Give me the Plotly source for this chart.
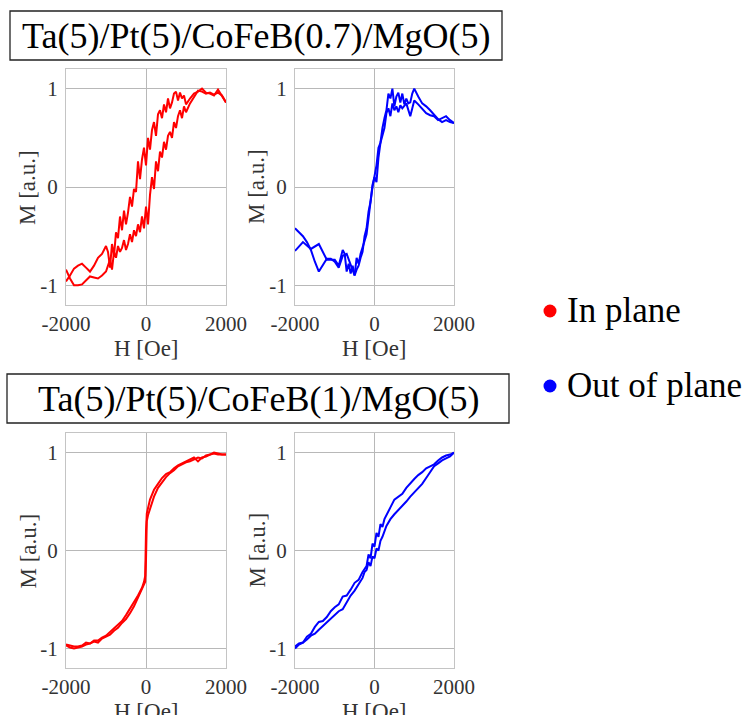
import plotly.graph_objects as go

# ---------------- data ----------------
titles = ["Ta(5)/Pt(5)/CoFeB(0.7)/MgO(5)", "Ta(5)/Pt(5)/CoFeB(1)/MgO(5)"]
legend_labels = ["In plane", "Out of plane"]
x_title = "H [Oe]"
y_title = "M [a.u.]"
x_tickvals = [-2000, 0, 2000]
x_ticktext = ["-2000", "0", "2000"]
y_tickvals = [-1, 0, 1]
y_ticktext = ["-1", "0", "1"]

# Panel A: CoFeB(0.7), in plane
a_ip_down_H = [2000, 1900, 1800, 1700, 1600, 1500, 1400, 1300, 1200, 1100,
               1000, 950, 900, 850, 800, 750, 700, 650, 600, 550, 500, 450, 400, 350, 300, 250, 200, 150, 100, 50,
               0, -50, -100, -150, -200, -250, -300, -350, -400, -450, -500, -550, -600, -650, -700, -750, -800,
               -850, -900, -950, -1000,
               -1100, -1200, -1300, -1400, -1500, -1600, -1700, -1800, -1900, -2000]
a_ip_down_M = [0.86, 0.93, 0.99, 0.93, 0.95, 0.96, 1.0, 0.97, 0.95, 0.90,
               0.84, 0.93, 0.90, 0.96, 0.88, 0.97, 0.95, 0.86, 0.80, 0.90, 0.76, 0.84, 0.70, 0.78, 0.74, 0.52, 0.66,
               0.58, 0.38, 0.50, 0.22, 0.40, 0.28, 0.08, 0.26, -0.05, -0.02, -0.20, -0.10, -0.26, -0.38, -0.24,
               -0.44, -0.30, -0.52, -0.46, -0.70, -0.58, -0.82, -0.66, -0.60,
               -0.68, -0.72, -0.80, -0.86, -0.82, -0.78, -0.80, -0.83, -0.90, -0.96]
a_ip_up_H = [-2000, -1900, -1800, -1700, -1600, -1500, -1400, -1300, -1200, -1100,
             -1000, -950, -900, -850, -800, -750, -700, -650, -600, -550, -500, -450, -400, -350, -300, -250, -200,
             -150, -100, -50, 0, 50, 100, 150, 200, 250, 300, 350, 400, 450, 500, 550, 600, 650, 700, 750, 800, 850,
             900, 950, 1000,
             1100, 1200, 1300, 1400, 1500, 1600, 1700, 1800, 1900, 2000]
a_ip_up_M = [-0.84, -0.93, -1.0, -1.0, -0.99, -0.95, -0.91, -0.92, -0.93, -0.90,
             -0.86, -0.80, -0.74, -0.84, -0.66, -0.72, -0.60, -0.66, -0.62, -0.54, -0.64, -0.58, -0.48, -0.56,
             -0.44, -0.50, -0.38, -0.46, -0.30, -0.42, -0.20, -0.38, -0.08, 0.10, -0.02, 0.26, 0.16, 0.36, 0.30,
             0.46, 0.38, 0.52, 0.56, 0.50, 0.66, 0.60, 0.72, 0.78, 0.70, 0.82, 0.76,
             0.85, 0.92, 0.98, 0.97, 0.95, 0.96, 0.94, 0.96, 0.93, 0.86]

# Panel B: CoFeB(0.7), out of plane
a_op_up_H = [-2000, -1800, -1600, -1400, -1200, -1000, -900, -800, -750, -700, -650, -600, -550, -500, -450, -400, -350,
             -300, -250, -200, -150, -100, -50, 0, 50, 100, 150, 200, 250, 300, 350, 400, 450, 500, 550, 600, 650, 700,
             800, 900, 1000, 1100, 1200, 1300, 1400, 1500, 1600, 1700, 1800, 1900, 2000]
a_op_up_M = [-0.65, -0.56, -0.63, -0.58, -0.74, -0.74, -0.80, -0.64, -0.68, -0.86, -0.78, -0.88, -0.80, -0.90, -0.84,
             -0.80, -0.72, -0.66, -0.50, -0.42, -0.25, -0.15, 0.02, 0.10, 0.05, 0.30, 0.45, 0.52, 0.60, 0.75, 0.80,
             0.72, 0.85, 0.78, 0.82, 0.76, 0.83, 0.80, 0.85, 0.72, 0.88, 0.84, 0.80, 0.75, 0.73, 0.72, 0.68, 0.70,
             0.72, 0.68, 0.65]
a_op_down_H = [2000, 1900, 1800, 1700, 1600, 1500, 1400, 1300, 1200, 1100, 1000, 950, 900, 850, 800, 750, 700, 650, 600,
               550, 500, 450, 400, 350, 300, 250, 200, 150, 100, 50, 0, -50, -100, -150, -200, -250, -300, -350, -400,
               -450, -500, -600, -700, -800, -900, -1000, -1100, -1200, -1300, -1400, -1500, -1600, -1700, -1800,
               -1900, -2000]
a_op_down_M = [0.65, 0.66, 0.68, 0.66, 0.69, 0.74, 0.78, 0.82, 0.85, 0.92, 1.0, 0.95, 0.86, 0.85, 0.90, 0.84, 0.95,
               0.86, 0.96, 0.92, 0.82, 1.0, 0.90, 0.95, 0.78, 0.70, 0.60, 0.45, 0.40, 0.22, 0.12, 0.0, -0.15, -0.35,
               -0.48, -0.55, -0.62, -0.68, -0.78, -0.72, -0.90, -0.78, -0.68, -0.70, -0.82, -0.76, -0.73, -0.73,
               -0.80, -0.86, -0.76, -0.64, -0.56, -0.50, -0.46, -0.42]

# Panel C: CoFeB(1), in plane
b_ip_up_H = [-2000, -1900, -1800, -1700, -1600, -1500, -1400, -1300, -1200, -1100, -1000, -900, -800, -700, -600, -500,
             -400, -300, -200, -100, -50, -20, 0, 10, 20, 50, 100, 150, 200, 300, 400, 500, 600, 700, 800, 900, 1000,
             1100, 1200, 1300, 1400, 1500, 1600, 1700, 1800, 1900, 2000]
b_ip_up_M = [-0.97, -0.99, -1.0, -0.99, -0.98, -0.96, -0.95, -0.93, -0.94, -0.90, -0.88, -0.86, -0.82, -0.79, -0.74,
             -0.70, -0.64, -0.57, -0.48, -0.40, -0.36, -0.32, -0.10, 0.20, 0.30, 0.36, 0.42, 0.50, 0.55, 0.64, 0.70,
             0.75, 0.79, 0.82, 0.86, 0.88, 0.90, 0.91, 0.93, 0.95, 0.94, 0.97, 0.98, 0.99, 0.98, 0.98, 0.98]
b_ip_down_H = [2000, 1900, 1800, 1700, 1600, 1500, 1400, 1300, 1200, 1100, 1000, 900, 800, 700, 600, 500, 400, 300, 200,
               100, 50, 20, 0, -10, -20, -50, -100, -200, -300, -400, -500, -600, -700, -800, -900, -1000, -1100,
               -1200, -1300, -1400, -1500, -1600, -1700, -1800, -1900, -2000]
b_ip_down_M = [0.98, 0.98, 0.99, 1.0, 0.98, 0.96, 0.95, 0.91, 0.95, 0.93, 0.91, 0.89, 0.87, 0.84, 0.80, 0.78, 0.74,
               0.68, 0.62, 0.52, 0.44, 0.38, 0.20, -0.10, -0.26, -0.32, -0.38, -0.46, -0.53, -0.60, -0.66, -0.72,
               -0.76, -0.80, -0.84, -0.87, -0.89, -0.92, -0.92, -0.95, -0.94, -0.97, -0.98, -0.98, -0.97, -0.96]

# Panel D: CoFeB(1), out of plane
b_op_up_H = [-2000, -1900, -1800, -1700, -1600, -1500, -1400, -1300, -1200, -1100, -1000, -900, -800, -700, -600, -500,
             -400, -300, -250, -200, -150, -100, -50, 0, 50, 100, 150, 200, 300, 400, 500, 600, 700, 800, 900, 1000,
             1100, 1200, 1300, 1400, 1500, 1600, 1700, 1800, 1900, 2000]
b_op_up_M = [-1.0, -0.96, -0.94, -0.91, -0.87, -0.85, -0.81, -0.77, -0.73, -0.70, -0.66, -0.62, -0.60, -0.53, -0.46,
             -0.41, -0.35, -0.28, -0.22, -0.20, -0.12, -0.16, -0.06, -0.08, 0.02, 0.00, 0.10, 0.14, 0.25, 0.32, 0.37,
             0.41, 0.45, 0.50, 0.55, 0.59, 0.64, 0.68, 0.74, 0.80, 0.86, 0.89, 0.92, 0.94, 0.96, 1.0]
b_op_down_H = [2000, 1900, 1800, 1700, 1600, 1500, 1400, 1300, 1200, 1100, 1000, 900, 800, 700, 600, 500, 400, 300, 250,
               200, 150, 100, 50, 0, -50, -100, -150, -200, -300, -400, -500, -600, -700, -800, -900, -1000, -1100,
               -1200, -1300, -1400, -1500, -1600, -1700, -1800, -1900, -2000]
b_op_down_M = [1.0, 0.98, 0.97, 0.95, 0.92, 0.88, 0.86, 0.84, 0.80, 0.77, 0.73, 0.69, 0.64, 0.58, 0.55, 0.52, 0.44,
               0.36, 0.32, 0.24, 0.27, 0.14, 0.18, 0.04, 0.07, -0.08, -0.04, -0.16, -0.22, -0.30, -0.33, -0.40, -0.46,
               -0.47, -0.55, -0.58, -0.62, -0.68, -0.72, -0.73, -0.78, -0.85, -0.88, -0.94, -0.95, -0.98]

RED = "#ff0000"
BLUE = "#0000ff"
FONT = "Liberation Serif"
AXCOL = "#333333"
W, H = 746, 715

def px_x(p):
    return p / W

def px_y(p):
    return 1 - p / H

fig = go.Figure()

panels = [
    (1, [(a_ip_down_H, a_ip_down_M), (a_ip_up_H, a_ip_up_M)], RED, (66, 226), (69, 305)),
    (2, [(a_op_up_H, a_op_up_M), (a_op_down_H, a_op_down_M)], BLUE, (295, 454), (69, 305)),
    (3, [(b_ip_up_H, b_ip_up_M), (b_ip_down_H, b_ip_down_M)], RED, (66, 226), (433, 668)),
    (4, [(b_op_up_H, b_op_up_M), (b_op_down_H, b_op_down_M)], BLUE, (295, 454), (433, 668)),
]

shapes = []
annotations = []

for idx, branches, col, (x0, x1), (y0, y1) in panels:
    xa = "x" if idx == 1 else f"x{idx}"
    ya = "y" if idx == 1 else f"y{idx}"
    for hx, my in branches:
        fig.add_trace(go.Scatter(x=hx, y=my, mode="lines", xaxis=xa, yaxis=ya,
                                 line=dict(color=col, width=2), showlegend=False, hoverinfo="skip"))
    axis_common = dict(showline=True, mirror=True, linecolor="#c4c4c4", linewidth=1,
                       showgrid=True, gridcolor="#b8b8b8", gridwidth=1, zeroline=False,
                       ticks="outside", tickcolor="rgba(0,0,0,0)", automargin=False,
                       tickfont=dict(family=FONT, size=21, color=AXCOL))
    xkey = "xaxis" if idx == 1 else f"xaxis{idx}"
    ykey = "yaxis" if idx == 1 else f"yaxis{idx}"
    fig.update_layout({
        xkey: dict(axis_common, ticklen=0, domain=[px_x(x0), px_x(x1)], range=[-2000, 2000],
                   anchor=ya, tickmode="array", tickvals=x_tickvals, ticktext=x_ticktext),
        ykey: dict(axis_common, ticklen=3, domain=[px_y(y1), px_y(y0)], range=[-1.2, 1.2],
                   anchor=xa, tickmode="array", tickvals=y_tickvals, ticktext=y_ticktext),
    })
    # axis titles
    annotations.append(dict(text=x_title, xref="paper", yref="paper", x=px_x((x0 + x1) / 2),
                            y=px_y(y1 + 43), xanchor="center", yanchor="middle", showarrow=False,
                            font=dict(family=FONT, size=23, color=AXCOL)))
    annotations.append(dict(text=y_title, xref="paper", yref="paper", x=px_x(x0 - 38),
                            y=px_y((y0 + y1) / 2), xanchor="center", yanchor="middle", showarrow=False,
                            textangle=-90, font=dict(family=FONT, size=23, color=AXCOL)))

boxes = [(10, 502, 11, 60), (7, 509, 374, 423)]
for t, (bx0, bx1, by0, by1) in zip(titles, boxes):
    shapes.append(dict(type="rect", xref="paper", yref="paper",
                       x0=px_x(bx0), x1=px_x(bx1), y0=px_y(by1), y1=px_y(by0),
                       line=dict(color="#222222", width=1.3), fillcolor="rgba(0,0,0,0)"))
    annotations.append(dict(text=t, xref="paper", yref="paper", x=px_x((bx0 + bx1) / 2),
                            y=px_y((by0 + by1) / 2), xanchor="center", yanchor="middle",
                            showarrow=False, font=dict(family=FONT, size=36, color="black")))

leg = [(legend_labels[0], RED, 311), (legend_labels[1], BLUE, 386)]
for lab, col, cy in leg:
    r = 6.5
    shapes.append(dict(type="circle", xref="paper", yref="paper",
                       x0=px_x(550 - r), x1=px_x(550 + r), y0=px_y(cy + r), y1=px_y(cy - r),
                       line=dict(color=col, width=0), fillcolor=col))
    annotations.append(dict(text=lab, xref="paper", yref="paper", x=px_x(565), y=px_y(cy),
                            xanchor="left", yanchor="middle", showarrow=False,
                            font=dict(family=FONT, size=35, color="black")))

fig.update_layout(width=W, height=H, margin=dict(l=0, r=0, t=0, b=0),
                  paper_bgcolor="white", plot_bgcolor="white",
                  shapes=shapes, annotations=annotations, showlegend=False)

fig.write_html("out.html")
